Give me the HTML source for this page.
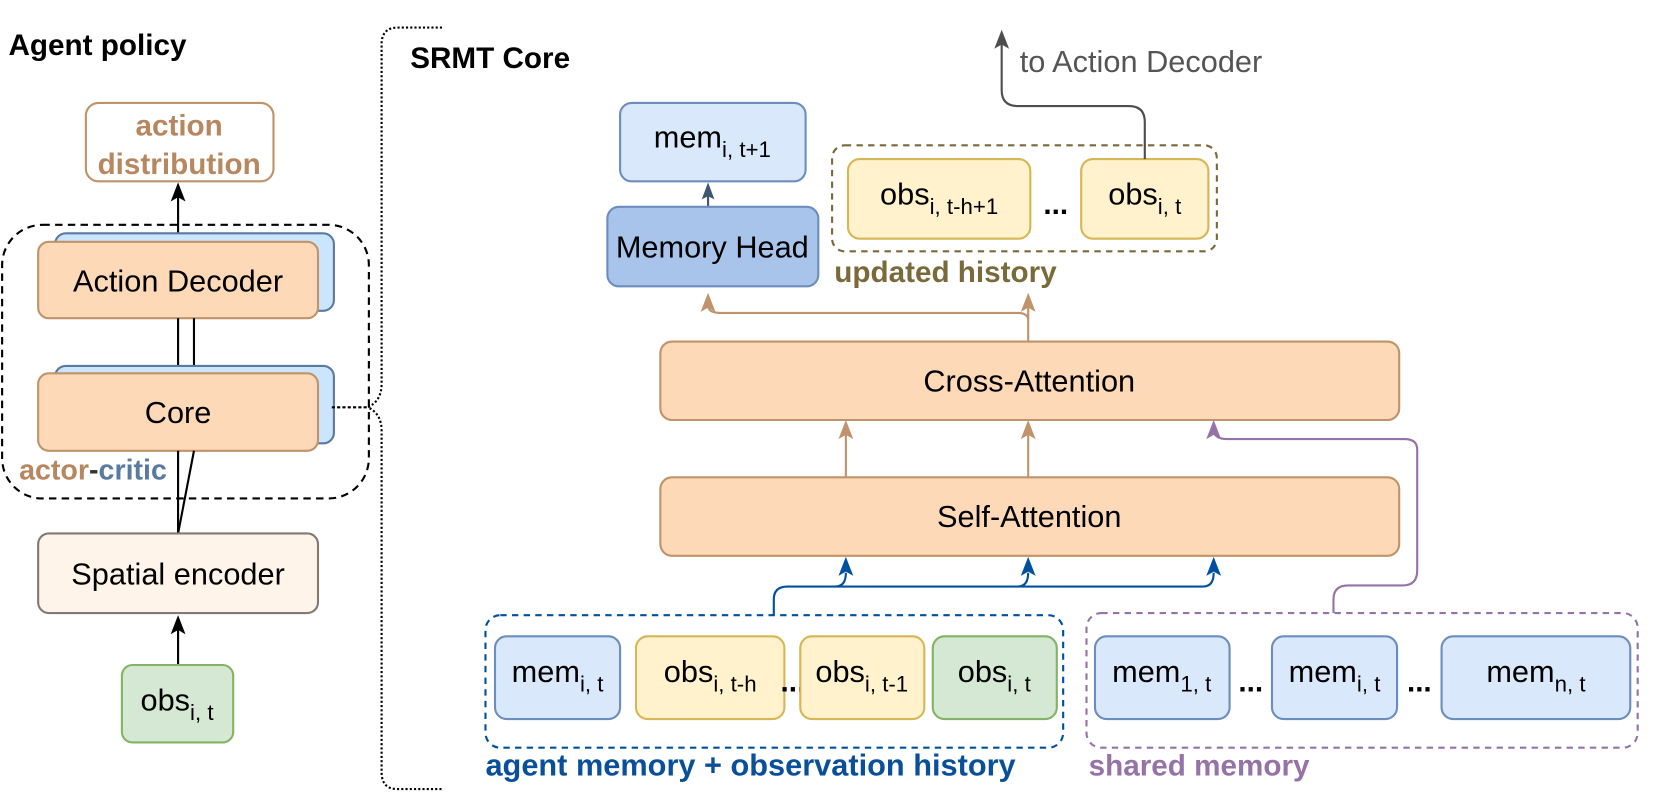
<!DOCTYPE html>
<html><head><meta charset="utf-8"><style>
html,body{margin:0;padding:0;background:#fff;}
svg{display:block}
text{font-family:"Liberation Sans",Arial,sans-serif}
</style></head><body>
<svg width="1661" height="805" viewBox="0 0 1567 759" preserveAspectRatio="none" xmlns="http://www.w3.org/2000/svg">
<!-- Left: Agent policy -->
<text x="8" y="52" font-size="28" font-weight="bold" fill="#000">Agent policy</text>
<rect x="81" y="97" width="177" height="74" rx="12" fill="#fff" stroke="#c09266" stroke-width="2"/>
<text x="169" y="128" font-size="28" font-weight="bold" fill="#b7885f" text-anchor="middle">action</text>
<text x="169" y="164" font-size="28" font-weight="bold" fill="#b7885f" text-anchor="middle">distribution</text>
<line x1="168" y1="228" x2="168" y2="182" stroke="#000" stroke-width="2"/>
<polygon points="168,172 161,190 168,186 175,190" fill="#000"/>
<rect x="2" y="212" width="346" height="258" rx="38" fill="none" stroke="#000" stroke-width="2" stroke-dasharray="7,5"/>
<rect x="52" y="220" width="263" height="73" rx="10" fill="#cce5ff" stroke="#5a7aa0" stroke-width="2"/>
<rect x="36" y="228" width="264" height="72" rx="10" fill="#fdd9b7" stroke="#c0936a" stroke-width="2"/>
<text x="168" y="275" font-size="29" text-anchor="middle">Action Decoder</text>
<line x1="168" y1="300" x2="168" y2="352" stroke="#000" stroke-width="2"/>
<line x1="183" y1="300" x2="183" y2="352" stroke="#000" stroke-width="2"/>
<rect x="52" y="345" width="263" height="73" rx="10" fill="#cce5ff" stroke="#5a7aa0" stroke-width="2"/>
<rect x="36" y="352" width="264" height="73" rx="10" fill="#fdd9b7" stroke="#c0936a" stroke-width="2"/>
<text x="168" y="399" font-size="29" text-anchor="middle">Core</text>
<line x1="168" y1="425" x2="168" y2="503" stroke="#000" stroke-width="2"/>
<line x1="183" y1="425" x2="168" y2="503" stroke="#000" stroke-width="2"/>
<text x="18" y="452" font-size="27" font-weight="bold"><tspan fill="#b7885f">actor</tspan><tspan fill="#333">-</tspan><tspan fill="#5a7aa0">critic</tspan></text>
<rect x="36" y="503" width="264" height="75" rx="10" fill="#fff4e9" stroke="#85796f" stroke-width="2"/>
<text x="168" y="551" font-size="29" text-anchor="middle">Spatial encoder</text>
<line x1="168" y1="627" x2="168" y2="590" stroke="#000" stroke-width="2"/>
<polygon points="168,580 161,598 168,594 175,598" fill="#000"/>
<rect x="115" y="627" width="105" height="73" rx="10" fill="#d5e8d4" stroke="#82b366" stroke-width="2"/>
<text x="167" y="670" font-size="29" text-anchor="middle">obs<tspan font-size="21" dy="9">i, t</tspan></text>
<!-- brace -->
<path d="M417,26 L375,26 Q360,26 360,42 L360,362 Q360,378 347,384 Q360,390 360,406 L360,728 Q360,744 375,744 L417,744" fill="none" stroke="#000" stroke-width="2" stroke-dasharray="2,2"/>
<line x1="313" y1="384" x2="347" y2="384" stroke="#000" stroke-width="2" stroke-dasharray="3,2"/>
<text x="387" y="64" font-size="28" font-weight="bold">SRMT Core</text>
<!-- top -->
<rect x="585" y="97" width="175" height="74" rx="11" fill="#dae8fc" stroke="#6c8ebf" stroke-width="2"/>
<text x="672" y="139" font-size="29" text-anchor="middle">mem<tspan font-size="21" dy="9">i, t+1</tspan></text>
<line x1="668" y1="195" x2="668" y2="182" stroke="#3f5670" stroke-width="2"/>
<polygon points="668,172 662,188 668,185 674,188" fill="#3f5670"/>
<rect x="573" y="195" width="199" height="75" rx="11" fill="#a9c4eb" stroke="#6c8ebf" stroke-width="2"/>
<text x="672" y="243" font-size="29" text-anchor="middle">Memory Head</text>
<rect x="785" y="137" width="363" height="100" rx="12" fill="none" stroke="#7a6a3a" stroke-width="2" stroke-dasharray="6,5"/>
<rect x="800" y="150" width="172" height="75" rx="11" fill="#fff2cc" stroke="#d6b656" stroke-width="2"/>
<text x="886" y="193" font-size="29" text-anchor="middle">obs<tspan font-size="21" dy="9">i, t-h+1</tspan></text>
<text x="996" y="202" font-size="28" font-weight="bold" text-anchor="middle">...</text>
<rect x="1020" y="150" width="120" height="75" rx="11" fill="#fff2cc" stroke="#d6b656" stroke-width="2"/>
<text x="1080" y="193" font-size="29" text-anchor="middle">obs<tspan font-size="21" dy="9">i, t</tspan></text>
<text x="787" y="266" font-size="28" font-weight="bold" fill="#7a6a3a">updated history</text>
<path d="M1080,150 L1080,115 Q1080,100 1065,100 L960,100 Q945,100 945,85 L945,40" fill="none" stroke="#4d4d4d" stroke-width="2"/>
<polygon points="945,28 938,46 945,42 952,46" fill="#4d4d4d"/>
<text x="962" y="68" font-size="29" fill="#555">to Action Decoder</text>
<!-- brown arrows -->
<path d="M970,322 L970,290 M970,302 Q970,295 960,295 L680,295 Q668,295 668,288" fill="none" stroke="#c0936a" stroke-width="2"/>
<polygon points="970,276 963,294 970,290 977,294" fill="#c0936a"/>
<polygon points="668,276 661,294 668,290 675,294" fill="#c0936a"/>
<rect x="623" y="322" width="697" height="74" rx="11" fill="#fdd9b7" stroke="#c0936a" stroke-width="2"/>
<text x="971" y="369" font-size="29" text-anchor="middle">Cross-Attention</text>
<line x1="798" y1="450" x2="798" y2="405" stroke="#c0936a" stroke-width="2"/>
<polygon points="798,396 791,414 798,410 805,414" fill="#c0936a"/>
<line x1="970" y1="450" x2="970" y2="405" stroke="#c0936a" stroke-width="2"/>
<polygon points="970,396 963,414 970,410 977,414" fill="#c0936a"/>
<path d="M1258,578 L1258,565 Q1258,552 1272,552 L1323,552 Q1337,552 1337,538 L1337,424 Q1337,414 1325,414 L1158,414 Q1145,414 1145,405" fill="none" stroke="#9673a6" stroke-width="2"/>
<polygon points="1145,396 1138,414 1145,410 1152,414" fill="#9673a6"/>
<rect x="623" y="450" width="697" height="74" rx="11" fill="#fdd9b7" stroke="#c0936a" stroke-width="2"/>
<text x="971" y="497" font-size="29" text-anchor="middle">Self-Attention</text>
<path d="M730,580 L730,565 Q730,553 743,553 L1135,553 Q1145,553 1145,540 M798,540 Q798,553 788,553 M970,540 Q970,553 960,553" fill="none" stroke="#0050a0" stroke-width="2"/>
<polygon points="798,525 791,543 798,539 805,543" fill="#0050a0"/>
<polygon points="970,525 963,543 970,539 977,543" fill="#0050a0"/>
<polygon points="1145,525 1138,543 1145,539 1152,543" fill="#0050a0"/>
<!-- bottom groups -->
<rect x="458" y="580" width="545" height="125" rx="14" fill="none" stroke="#0050a0" stroke-width="2" stroke-dasharray="6,5"/>
<rect x="467" y="600" width="118" height="78" rx="11" fill="#dae8fc" stroke="#6c8ebf" stroke-width="2"/>
<text x="526" y="643" font-size="29" text-anchor="middle">mem<tspan font-size="21" dy="9">i, t</tspan></text>
<rect x="600" y="600" width="140" height="78" rx="11" fill="#fff2cc" stroke="#d6b656" stroke-width="2"/>
<text x="670" y="643" font-size="29" text-anchor="middle">obs<tspan font-size="21" dy="9">i, t-h</tspan></text>
<text x="748" y="652" font-size="28" font-weight="bold" text-anchor="middle">...</text>
<rect x="755" y="600" width="117" height="78" rx="11" fill="#fff2cc" stroke="#d6b656" stroke-width="2"/>
<text x="813" y="643" font-size="29" text-anchor="middle">obs<tspan font-size="21" dy="9">i, t-1</tspan></text>
<rect x="880" y="600" width="117" height="78" rx="11" fill="#d5e8d4" stroke="#82b366" stroke-width="2"/>
<text x="938" y="643" font-size="29" text-anchor="middle">obs<tspan font-size="21" dy="9">i, t</tspan></text>
<text x="458" y="731" font-size="29" font-weight="bold" fill="#0a4f9a">agent memory + observation history</text>
<rect x="1025" y="578" width="520" height="127" rx="14" fill="none" stroke="#9673a6" stroke-width="2" stroke-dasharray="6,5"/>
<rect x="1033" y="600" width="127" height="78" rx="11" fill="#dae8fc" stroke="#6c8ebf" stroke-width="2"/>
<text x="1096" y="643" font-size="29" text-anchor="middle">mem<tspan font-size="21" dy="9">1, t</tspan></text>
<text x="1180" y="652" font-size="28" font-weight="bold" text-anchor="middle">...</text>
<rect x="1200" y="600" width="118" height="78" rx="11" fill="#dae8fc" stroke="#6c8ebf" stroke-width="2"/>
<text x="1259" y="643" font-size="29" text-anchor="middle">mem<tspan font-size="21" dy="9">i, t</tspan></text>
<text x="1339" y="652" font-size="28" font-weight="bold" text-anchor="middle">...</text>
<rect x="1360" y="600" width="178" height="78" rx="11" fill="#dae8fc" stroke="#6c8ebf" stroke-width="2"/>
<text x="1449" y="643" font-size="29" text-anchor="middle">mem<tspan font-size="21" dy="9">n, t</tspan></text>
<text x="1027" y="731" font-size="28" font-weight="bold" fill="#9673a6">shared memory</text>
</svg>
</body></html>
